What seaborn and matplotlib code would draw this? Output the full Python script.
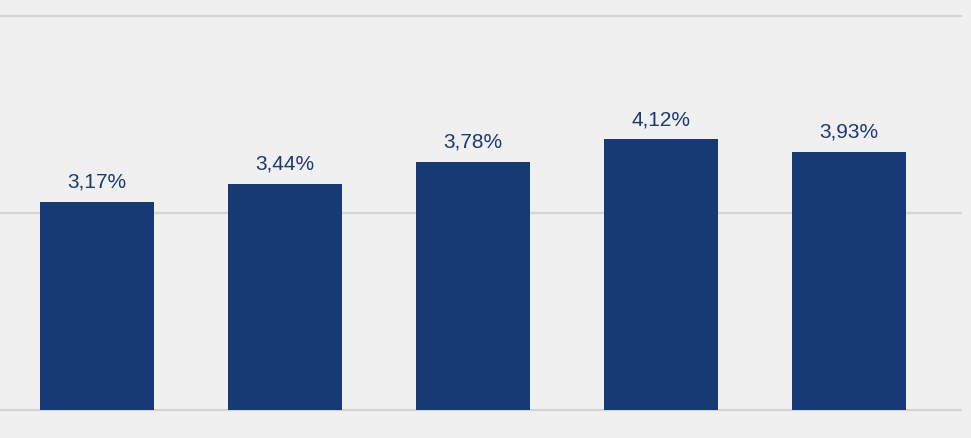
# Import libraries
import pandas as pd
import matplotlib.pyplot as plt
import seaborn as sns

# Chart data
categories = ["1", "2", "3", "4", "5"]
values = [3.17, 3.44, 3.78, 4.12, 3.93]
labels = ["3,17%", "3,44%", "3,78%", "4,12%", "3,93%"]

data = pd.DataFrame({"category": categories, "value": values})

sns.set_style("white")
plt.rcParams["font.family"] = ["Liberation Sans", "DejaVu Sans"]

fig = plt.figure(figsize=(9.71, 4.39), dpi=100, facecolor="#f0f0f0")
ax = fig.add_axes([0, 0, 962 / 971, 1])
ax.set_facecolor("#f0f0f0")

sns.barplot(data=data, x="category", y="value", color="#173a75",
            saturation=1, width=0.606, linewidth=0, ax=ax)

# Value labels above bars
ax.bar_label(ax.containers[0], labels=labels, padding=8,
             fontsize=15, color="#1c3a6e")

# Axis ranges and grid
ax.set_xlim(-0.516, 4.601)
ax.set_ylim(-0.4264, 6.2589)
ax.set_yticks([0, 3, 6])
ax.yaxis.grid(True, color="#d4d4d4", linewidth=1.6)
ax.set_axisbelow(True)
ax.set_xlabel("")
ax.set_ylabel("")
ax.set_xticks([])
ax.tick_params(left=False, labelleft=False)
sns.despine(ax=ax, left=True, bottom=True)

fig.savefig("out.png", dpi=100, facecolor=fig.get_facecolor())
